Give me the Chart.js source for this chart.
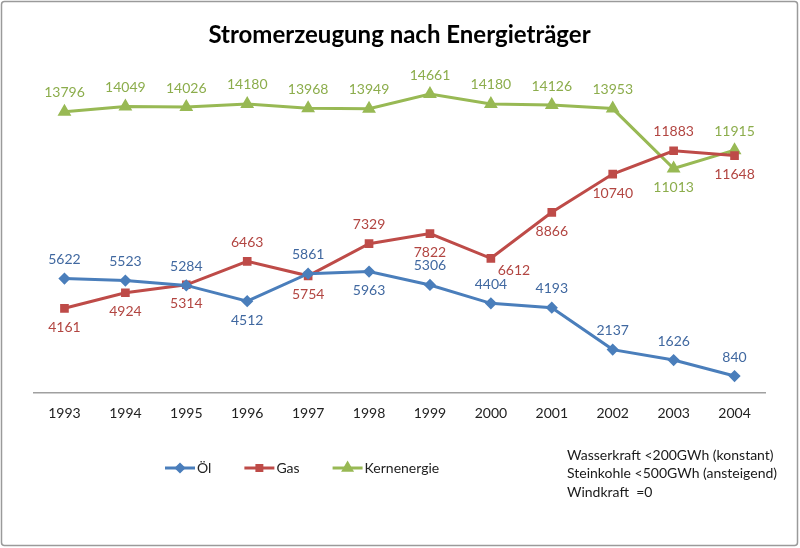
<!DOCTYPE html>
<html>
<head>
<meta charset="utf-8">
<script src="https://cdn.jsdelivr.net/npm/chart.js@4.4.1/dist/chart.umd.min.js"></script>
<style>
  html, body { margin: 0; padding: 0; background: #fff; }
  #wrap { width: 800px; height: 548px; position: relative; }
</style>
</head>
<body>
<div id="wrap"><canvas id="chart" width="800" height="548"></canvas></div>
<script>
const jahre = ['1993','1994','1995','1996','1997','1998','1999','2000','2001','2002','2003','2004'];
const oel = [5622, 5523, 5284, 4512, 5861, 5963, 5306, 4404, 4193, 2137, 1626, 840];
const gas = [4161, 4924, 5314, 6463, 5754, 7329, 7822, 6612, 8866, 10740, 11883, 11648];
const kern = [13796, 14049, 14026, 14180, 13968, 13949, 14661, 14180, 14126, 13953, 11013, 11915];
const hinweise = ['Wasserkraft <200GWh (konstant)', 'Steinkohle <500GWh (ansteigend)', 'Windkraft  =0'];

// wo die Beschriftung steht: o = oben, u = unten, ur = unten rechts
const lageOel = ['o','o','o','u','o','u','o','o','o','o','o','o'];
const lageGas = ['u','u','u','o','u','o','u','ur','u','u','o','u'];
const lageKern = ['o','o','o','o','o','o','o','o','o','o','u','o'];

const schrift = 'Lato, "Open Sans", sans-serif';

const werteLabels = {
  id: 'werteLabels',
  afterDatasetsDraw(chart) {
    const ctx = chart.ctx;
    ctx.save();
    ctx.font = '14px ' + schrift;
    ctx.textAlign = 'center';
    ctx.textBaseline = 'middle';
    chart.data.datasets.forEach((ds, i) => {
      const meta = chart.getDatasetMeta(i);
      meta.data.forEach((pt, j) => {
        const lage = ds.lage[j];
        let x = pt.x, y = pt.y;
        if (lage === 'o') y -= 19;
        else if (lage === 'u') y += 19;
        else { x += 23; y += 12; }
        ctx.fillStyle = ds.textFarbe;
        ctx.fillText(ds.data[j], x, y);
      });
    });
    ctx.restore();
  }
};

const rahmenUndLegende = {
  id: 'rahmenUndLegende',
  afterDraw(chart) {
    const ctx = chart.ctx;
    ctx.save();
    // Rahmen
    ctx.strokeStyle = '#9a9a9a';
    ctx.lineWidth = 1.5;
    ctx.beginPath();
    ctx.roundRect(1.5, 1.5, 796, 544, 3);
    ctx.stroke();

    // Legende
    ctx.font = '14px ' + schrift;
    ctx.textBaseline = 'middle';
    ctx.textAlign = 'left';
    let x = 165;
    const y = 468;
    chart.data.datasets.forEach(ds => {
      ctx.strokeStyle = ds.borderColor;
      ctx.lineWidth = 3;
      ctx.beginPath();
      ctx.moveTo(x, y);
      ctx.lineTo(x + 30, y);
      ctx.stroke();
      Chart.helpers.drawPoint(ctx, {pointStyle: ds.pointStyle, radius: ds.pointRadius - 0.5, borderWidth: 1}, x + 15, y);
      ctx.fillStyle = ds.borderColor;
      ctx.fill();
      ctx.fillStyle = '#222';
      ctx.fillText(ds.label, x + 32, y);
      x += 32 + ctx.measureText(ds.label).width + 33;
    });

    // Hinweise rechts unten
    ctx.fillStyle = '#1a1a1a';
    hinweise.forEach((t, i) => ctx.fillText(t, 567, 455 + i * 18.5));
    ctx.restore();
  }
};

new Chart(document.getElementById('chart'), {
  type: 'line',
  data: {
    labels: jahre,
    datasets: [
      {
        label: 'Öl', data: oel, lage: lageOel, textFarbe: '#4068a0',
        borderColor: '#4a7ebb', backgroundColor: '#4a7ebb',
        pointStyle: 'rectRot', pointRadius: 4, borderWidth: 3
      },
      {
        label: 'Gas', data: gas, lage: lageGas, textFarbe: '#b24541',
        borderColor: '#be4b48', backgroundColor: '#be4b48',
        pointStyle: 'rect', pointRadius: 4, borderWidth: 3
      },
      {
        label: 'Kernenergie', data: kern, lage: lageKern, textFarbe: '#8cad4c',
        borderColor: '#98b954', backgroundColor: '#98b954',
        pointStyle: 'triangle', pointRadius: 5, borderWidth: 3
      }
    ]
  },
  options: {
    responsive: false,
    animation: false,
    events: [],
    layout: { padding: { left: 34, right: 35, top: 0, bottom: 122 } },
    plugins: {
      legend: { display: false },
      tooltip: { enabled: false },
      title: {
        display: true,
        text: 'Stromerzeugung nach Energieträger',
        color: '#000',
        font: { family: schrift, size: 24, weight: 'bold' },
        padding: { top: 21, bottom: 17 }
      }
    },
    scales: {
      x: {
        offset: true,
        grid: { display: false },
        border: { display: true, color: '#a0a0a0', width: 1.5 },
        ticks: { color: '#222', padding: 4, font: { family: schrift, size: 14 } }
      },
      y: {
        display: false,
        min: 0,
        max: 16000
      }
    }
  },
  plugins: [werteLabels, rahmenUndLegende]
});
</script>
</body>
</html>
